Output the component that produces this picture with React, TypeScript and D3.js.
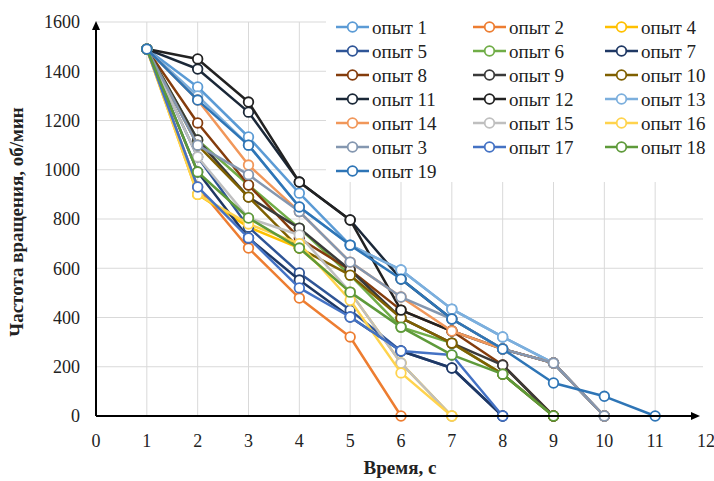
import React from "react";
import * as d3 from "d3";

const seriesNames = ["опыт 1","опыт 2","опыт 4","опыт 5","опыт 6","опыт 7","опыт 8","опыт 9","опыт 10","опыт 11","опыт 12","опыт 13","опыт 14","опыт 15","опыт 16","опыт 3","опыт 17","опыт 18","опыт 19"];
const seriesColors = ["#5B9BD5","#ED7D31","#FFC000","#2F5597","#70AD47","#1F3864","#843C0C","#3A3A3A","#7F6000","#1B2838","#222222","#7CAFDD","#F1975A","#BFBFBF","#FFD34D","#8497B0","#4472C4","#5E9A3A","#2E75B6"];

const s1 = [1490, 1336, 1133, 905, 694, 593, 434, 321, 215, 0];
const s2 = [1490, 930, 682, 479, 321, 0];
const s4 = [1490, 900, 767, 682, 503, 215, 0];
const s5 = [1490, 1052, 767, 581, 430, 264, 195, 0];
const s6 = [1490, 1121, 938, 763, 572, 361, 296, 170, 0];
const s7 = [1490, 991, 723, 552, 402, 264, 195, 0];
const s8 = [1490, 1190, 938, 722, 593, 430, 345, 207, 0];
const s9 = [1490, 1121, 889, 763, 593, 398, 296, 207, 0];
const s10 = [1490, 1100, 889, 682, 572, 398, 296, 170, 0];
const s11 = [1490, 1409, 1234, 950, 796, 556, 394, 272, 215, 0];
const s12 = [1490, 1450, 1275, 950, 796, 430, 345, 272, 215, 0];
const s13 = [1490, 1300, 1100, 849, 694, 593, 434, 321, 215, 0];
const s14 = [1490, 1283, 1019, 830, 625, 483, 345, 272, 215, 0];
const s15 = [1490, 1052, 804, 735, 503, 215, 0];
const s16 = [1490, 900, 780, 700, 470, 175, 0];
const s3 = [1490, 1100, 980, 830, 625, 483, 394, 272, 215, 0];
const s17 = [1490, 930, 723, 520, 402, 264, 248, 0];
const s18 = [1490, 991, 804, 682, 503, 361, 248, 170, 0];
const s19 = [1490, 1283, 1100, 849, 694, 556, 394, 272, 134, 80, 0];

const seriesValues = [s1, s2, s4, s5, s6, s7, s8, s9, s10, s11, s12, s13, s14, s15, s16, s3, s17, s18, s19];

const xTicks = [0,1,2,3,4,5,6,7,8,9,10,11,12];
const yTicks = [0,200,400,600,800,1000,1200,1400,1600];

const FONT = "Liberation Serif, Tinos, DejaVu Serif, Times New Roman, serif";

export default function App() {
  const W = 714, H = 481;
  const x = d3.scaleLinear().domain([0, 12]).range([96, 706]);
  const y = d3.scaleLinear().domain([0, 1600]).range([416, 22]);
  const line = d3.line<[number, number]>().x(d => x(d[0])).y(d => y(d[1]));

  const legendX = [336, 473, 605];
  const legendY0 = 27, legendDY = 24;
  const txt = { fontFamily: FONT, fill: "#222" } as React.CSSProperties;

  return (
    <svg width={W} height={H} style={{ position: "absolute", left: 0, top: 0, background: "#fff" }}>
      <rect x={0} y={0} width={W} height={H} fill="#fff" />
      {yTicks.filter(t => t > 0).map(t => (
        <line key={"gy" + t} x1={x(0)} x2={703} y1={y(t)} y2={y(t)} stroke="#d9d9d9" strokeWidth={1} />
      ))}
      {xTicks.filter(t => t > 0 && t < 12).map(t => (
        <line key={"gx" + t} x1={x(t)} x2={x(t)} y1={y(1600)} y2={y(0)} stroke="#d9d9d9" strokeWidth={1} />
      ))}
      {seriesValues.map((vals, i) => {
        const pts: [number, number][] = vals.map((v, k) => [k + 1, v]);
        return (
          <g key={"s" + i}>
            <path d={line(pts) || ""} fill="none" stroke={seriesColors[i]} strokeWidth={2.5} strokeLinejoin="round" />
            {pts.map((p, k) => (
              <circle key={k} cx={x(p[0])} cy={y(p[1])} r={4.8} fill="#fff" stroke={seriesColors[i]} strokeWidth={1.8} />
            ))}
          </g>
        );
      })}
      <line x1={x(0)} x2={x(0)} y1={y(0)} y2={y(1600) + 6} stroke="#000" strokeWidth={2} />
      <path d={`M${x(0) - 4},${y(1600) + 8} L${x(0)},${y(1600) - 1} L${x(0) + 4},${y(1600) + 8} Z`} fill="#000" />
      <line x1={x(0)} x2={693} y1={y(0)} y2={y(0)} stroke="#000" strokeWidth={2} />
      <path d={`M${691},${y(0) - 4} L${700},${y(0)} L${691},${y(0) + 4} Z`} fill="#000" />
      {yTicks.map(t => (
        <text key={"yl" + t} x={80} y={y(t)} dy="0.35em" textAnchor="end" style={{ ...txt, fontSize: 18 }}>{t}</text>
      ))}
      {xTicks.map(t => (
        <text key={"xl" + t} x={x(t)} y={441} dy="0.35em" textAnchor="middle" style={{ ...txt, fontSize: 18 }}>{t}</text>
      ))}
      <text x={400} y={467} dy="0.35em" textAnchor="middle" style={{ ...txt, fontSize: 19, fontWeight: "bold" }}>Время, с</text>
      <text transform={`translate(16,222) rotate(-90)`} dy="0.35em" textAnchor="middle" style={{ ...txt, fontSize: 19, fontWeight: "bold" }}>Частота вращения, об/мин</text>
      <rect x={326} y={12} width={388} height={170} fill="#fff" />
      {seriesNames.map((name, i) => {
        const col = i % 3, row = Math.floor(i / 3);
        const lx = legendX[col], ly = legendY0 + row * legendDY;
        return (
          <g key={"lg" + i}>
            <line x1={lx} x2={lx + 33} y1={ly} y2={ly} stroke={seriesColors[i]} strokeWidth={2.5} />
            <circle cx={lx + 16.5} cy={ly} r={4.8} fill="#fff" stroke={seriesColors[i]} strokeWidth={1.8} />
            <text x={lx + 36} y={ly} dy="0.35em" style={{ ...txt, fontSize: 19 }}>{name}</text>
          </g>
        );
      })}
    </svg>
  );
}
